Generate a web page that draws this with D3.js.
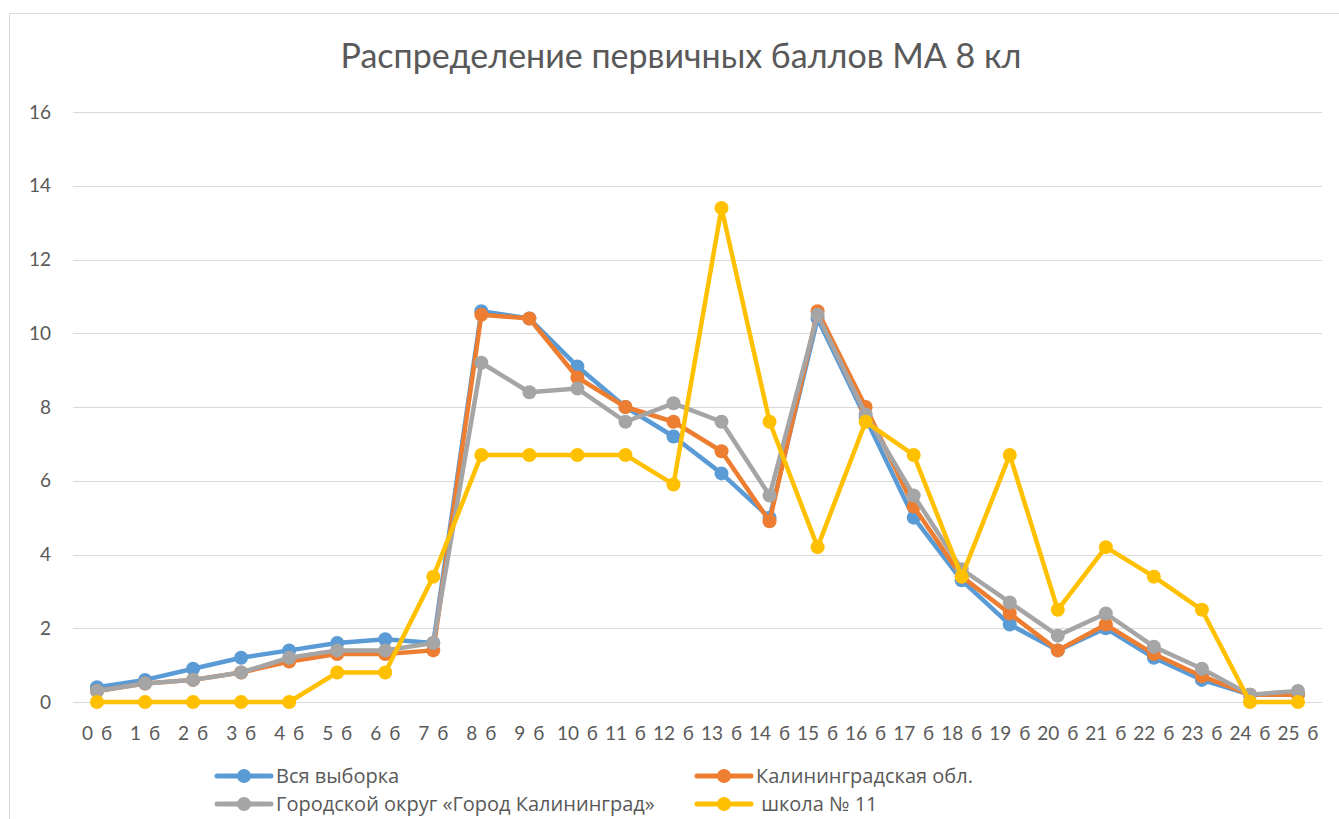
<!DOCTYPE html>
<html>
<head>
<meta charset="utf-8">
<script src="https://cdn.jsdelivr.net/npm/d3@7"></script>
<style>
  body { margin: 0; background: #fff; }
  text { font-family: Lato, "Open Sans", sans-serif; fill: #595959; }
  .grid line { stroke: #d9d9d9; stroke-width: 1; }
  .legend text { font-family: "Open Sans", sans-serif; }
</style>
</head>
<body>
<script>
// categories and series
var categories = ["0 б","1 б","2 б","3 б","4 б","5 б","6 б","7 б","8 б","9 б","10 б","11 б","12 б",
    "13 б","14 б","15 б","16 б","17 б","18 б","19 б","20 б","21 б","22 б","23 б","24 б","25 б"];

var allSample = [0.4,0.6,0.9,1.2,1.4,1.6,1.7,1.6,10.6,10.4,9.1,8.0,7.2,6.2,5.0,10.4,7.7,5.0,3.3,2.1,1.4,2.0,1.2,0.6,0.2,0.2];
var region    = [0.3,0.5,0.6,0.8,1.1,1.3,1.3,1.4,10.5,10.4,8.8,8.0,7.6,6.8,4.9,10.6,8.0,5.3,3.4,2.4,1.4,2.1,1.3,0.7,0.2,0.2];
var city      = [0.3,0.5,0.6,0.8,1.2,1.4,1.4,1.6,9.2,8.4,8.5,7.6,8.1,7.6,5.6,10.5,7.8,5.6,3.6,2.7,1.8,2.4,1.5,0.9,0.2,0.3];
var school    = [0,0,0,0,0,0.8,0.8,3.4,6.7,6.7,6.7,6.7,5.9,13.4,7.6,4.2,7.6,6.7,3.4,6.7,2.5,4.2,3.4,2.5,0,0];

var seriesNames = ["Вся выборка", "Калининградская обл.", "Городской округ «Город Калининград»", " школа № 11"];
var seriesColors = ["#5b9bd5", "#ed7d31", "#a5a5a5", "#ffc000"];
var yTicks = [0, 2, 4, 6, 8, 10, 12, 14, 16];

var series = [allSample, region, city, school];

var width = 1339,
    height = 819;

var svg = d3.select("body")
    .append("svg")
    .attr("width", width)
    .attr("height", height);

// chart frame
svg.append("rect")
    .attr("x", 9.5)
    .attr("y", 13.5)
    .attr("width", 1400)
    .attr("height", 900)
    .attr("fill", "#fff")
    .attr("stroke", "#d9d9d9");

// title
svg.append("text")
    .attr("x", 681)
    .attr("y", 68)
    .attr("text-anchor", "middle")
    .style("font-size", "34px")
    .text("Распределение первичных баллов МА 8 кл");

var plot = { left: 73, right: 1322, top: 112, bottom: 702 };

var x = d3.scaleBand()
    .domain(categories)
    .range([plot.left, plot.right]);

var y = d3.scaleLinear()
    .domain([0, 16])
    .range([plot.bottom, plot.top]);

// horizontal gridlines
svg.append("g")
    .attr("class", "grid")
    .selectAll("line")
    .data(yTicks)
    .enter()
    .append("line")
    .attr("x1", plot.left)
    .attr("x2", plot.right)
    .attr("y1", function(d){ return Math.round(y(d)) + 0.5; })
    .attr("y2", function(d){ return Math.round(y(d)) + 0.5; });

// y axis labels
var yAxis = svg.append("g")
    .attr("transform", "translate(" + (plot.left - 22) + ",0)")
    .call(d3.axisLeft(y).tickValues(yTicks).tickSize(0).tickPadding(0));
yAxis.select(".domain").remove();
yAxis.selectAll("text")
    .style("font-size", "19px")
    .style("font-family", null)
    .attr("fill", null);

// x axis labels
var xAxis = svg.append("g")
    .attr("transform", "translate(0," + (plot.bottom + 24) + ")")
    .call(d3.axisBottom(x).tickSize(0).tickPadding(0));
xAxis.select(".domain").remove();
xAxis.selectAll("text")
    .style("font-size", "19px")
    .style("font-family", null)
    .style("word-spacing", "3px")
    .attr("fill", null)
    .attr("dy", "0.71em");

var cx = function(d, i){ return x(categories[i]) + x.bandwidth() / 2; };

var line = d3.line()
    .x(cx)
    .y(function(d){ return y(d); });

// lines with markers, one group per series
series.forEach(function(values, s){
    var g = svg.append("g").attr("class", "series s" + s);
    g.append("path")
        .datum(values)
        .attr("fill", "none")
        .attr("stroke", seriesColors[s])
        .attr("stroke-width", 4.5)
        .attr("stroke-linejoin", "round")
        .attr("d", line);
    g.selectAll("circle")
        .data(values)
        .enter()
        .append("circle")
        .attr("cx", cx)
        .attr("cy", function(d){ return y(d); })
        .attr("r", 7)
        .attr("fill", seriesColors[s]);
});

// legend, two columns
var legendPos = [[217, 776], [697, 776], [217, 804], [697, 804]];
var legend = svg.selectAll(".legend")
    .data(seriesNames)
    .enter()
    .append("g")
    .attr("class", "legend")
    .attr("transform", function(d, i){ return "translate(" + legendPos[i][0] + "," + legendPos[i][1] + ")"; });

legend.append("line")
    .attr("x1", 0)
    .attr("x2", 54)
    .attr("stroke", function(d, i){ return seriesColors[i]; })
    .attr("stroke-width", 5)
    .attr("stroke-linecap", "round");

legend.append("circle")
    .attr("cx", 27)
    .attr("r", 7)
    .attr("fill", function(d, i){ return seriesColors[i]; });

legend.append("text")
    .attr("x", 59)
    .attr("dy", "0.35em")
    .style("font-size", "20px")
    .style("white-space", "pre")
    .text(function(d){ return d; });
</script>
</body>
</html>
